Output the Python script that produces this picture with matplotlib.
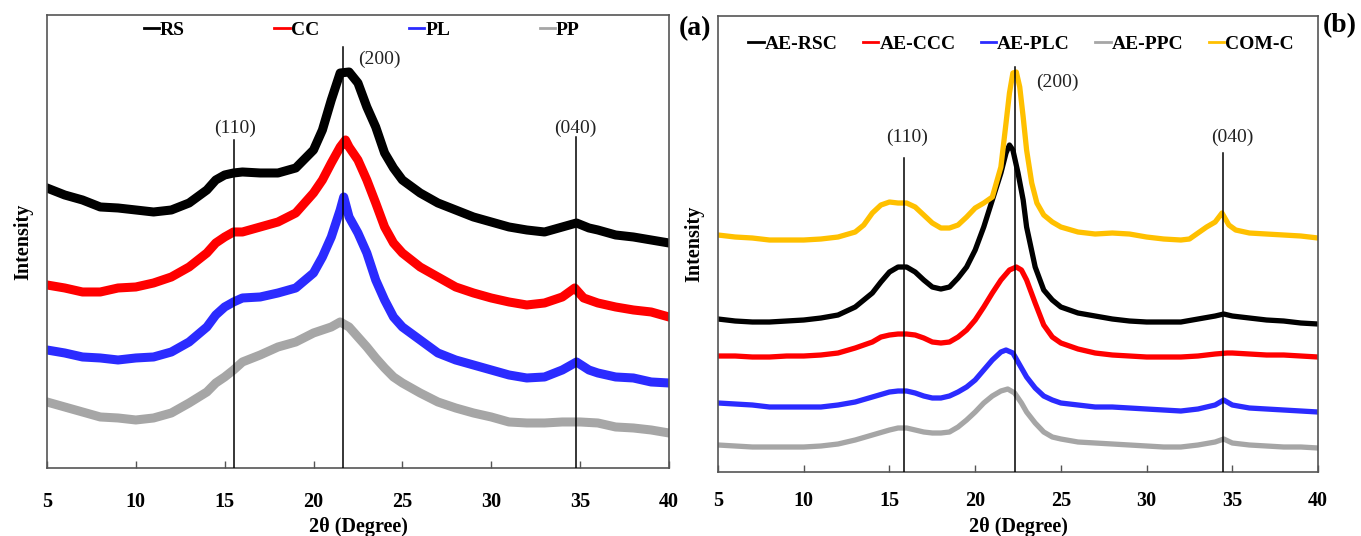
import matplotlib
matplotlib.use('Agg')
import matplotlib.pyplot as plt

plt.rcParams['font.family'] = ['Liberation Serif', 'DejaVu Serif']

# ---- (a) raw materials: 2theta / intensity (a.u., offset traces) ----
rs_x = [5, 6, 7, 8, 9, 10, 11, 12, 13, 14, 14.5, 15, 15.5, 16, 17, 18, 19, 20, 20.5, 21,
        21.5, 22, 22.5, 23, 23.5, 24, 24.5, 25, 26, 27, 28, 29, 30, 31, 32, 33, 34, 34.8,
        35.5, 36, 37, 38, 39, 40]
rs_y = [280, 273, 268, 261, 260, 258, 256, 258, 265, 278, 288, 293, 295, 296, 295, 295, 300,
        318, 338, 368, 395, 396, 385, 361, 341, 315, 300, 288, 275, 265, 258, 251, 246, 241,
        238, 236, 241, 245, 240, 238, 233, 231, 228, 225]

cc_x = [5, 6, 7, 8, 9, 10, 11, 12, 13, 14, 14.5, 15, 15.5, 16, 17, 18, 19, 20, 20.5, 21,
        21.5, 21.8, 22, 22.5, 23, 23.5, 24, 24.5, 25, 26, 27, 28, 29, 30, 31, 32, 33, 34,
        34.7, 35.2, 36, 37, 38, 39, 40]
cc_y = [183, 180, 176, 176, 180, 181, 185, 191, 201, 215, 225, 231, 236, 236, 241, 246, 255,
        275, 288, 305, 321, 328, 321, 308, 288, 265, 241, 225, 215, 201, 191, 181, 175, 170,
        166, 163, 165, 171, 180, 170, 165, 161, 158, 156, 151]

pl_x = [5, 6, 7, 8, 9, 10, 11, 12, 13, 14, 14.5, 15, 15.5, 16, 17, 18, 19, 20, 20.5, 21,
        21.5, 21.7, 22, 22.5, 23, 23.5, 24, 24.5, 25, 26, 27, 28, 29, 30, 31, 32, 33, 34,
        34.8, 35.5, 36, 37, 38, 39, 40]
pl_y = [118, 115, 111, 110, 108, 110, 111, 116, 126, 141, 153, 161, 166, 170, 171, 175, 180,
        195, 211, 231, 258, 271, 251, 235, 215, 188, 168, 151, 141, 128, 115, 108, 103, 98,
        93, 90, 91, 98, 106, 98, 95, 91, 90, 86, 85]

pp_x = [5, 6, 7, 8, 9, 10, 11, 12, 13, 14, 14.5, 15, 15.5, 16, 17, 18, 19, 20, 20.5, 21,
        21.5, 22, 22.5, 23, 23.5, 24, 24.5, 25, 26, 27, 28, 29, 30, 31, 32, 33, 34, 35, 36,
        37, 38, 39, 40]
pp_y = [66, 61, 56, 51, 50, 48, 50, 55, 65, 76, 85, 91, 98, 106, 113, 121, 126, 135, 138, 141,
        146, 141, 131, 121, 110, 100, 91, 85, 75, 66, 60, 55, 51, 46, 45, 45, 46, 46, 45, 41,
        40, 38, 35]

# ---- (b) extracted celluloses ----
com_x = [5, 6, 7, 8, 9, 10, 11, 12, 13, 13.5, 14, 14.5, 15, 15.5, 16, 16.5, 17, 17.5, 18,
         18.5, 19, 19.5, 20, 20.5, 21, 21.5, 21.8, 22.0, 22.2, 22.4, 22.6, 22.8, 23.0, 23.3,
         23.6, 24, 24.5, 25, 26, 27, 28, 29, 30, 31, 32, 32.5, 33, 33.5, 34, 34.4, 34.8,
         35.2, 36, 37, 38, 39, 40]
com_y = [237, 235, 234, 232, 232, 232, 233, 235, 240, 247, 259, 267, 270, 269, 269, 265, 257,
         249, 244, 244, 247, 255, 264, 269, 275, 305, 349, 379, 399, 400, 385, 355, 322, 289,
         269, 257, 250, 245, 240, 238, 239, 238, 235, 233, 232, 233, 239, 245, 250, 259, 247,
         242, 239, 238, 237, 236, 234]

rsc_x = [5, 6, 7, 8, 9, 10, 11, 12, 13, 14, 14.5, 15, 15.5, 16, 16.5, 17, 17.5, 18, 18.5,
         19, 19.5, 20, 20.5, 21, 21.5, 21.8, 22.0, 22.2, 22.5, 22.8, 23.0, 23.5, 24, 24.5,
         25, 26, 27, 28, 29, 30, 31, 32, 33, 34, 34.5, 35, 36, 37, 38, 39, 40]
rsc_y = [153, 151, 150, 150, 151, 152, 154, 157, 165, 179, 190, 200, 205, 205, 200, 192, 185,
         183, 185, 194, 205, 222, 245, 272, 299, 319, 327, 322, 299, 272, 245, 205, 182, 172,
         165, 159, 156, 153, 151, 150, 150, 150, 153, 156, 158, 156, 154, 152, 151, 149, 148]

ccc_x = [5, 6, 7, 8, 9, 10, 11, 12, 13, 14, 14.5, 15, 15.5, 16, 16.5, 17, 17.5, 18, 18.5,
         19, 19.5, 20, 20.5, 21, 21.5, 22.0, 22.4, 22.7, 23.0, 23.5, 24, 24.5, 25, 26, 27,
         28, 29, 30, 31, 32, 33, 34, 34.7, 35, 36, 37, 38, 39, 40]
ccc_y = [116, 116, 115, 115, 116, 116, 117, 119, 124, 130, 135, 137, 138, 138, 137, 134, 130,
         129, 130, 135, 142, 152, 165, 179, 192, 202, 205, 202, 192, 169, 147, 135, 129, 123,
         119, 117, 116, 115, 115, 115, 116, 118, 119, 119, 118, 117, 117, 116, 115]

plc_x = [5, 6, 7, 8, 9, 10, 11, 12, 13, 14, 15, 15.5, 16, 16.5, 17, 17.5, 18, 18.5, 19,
         19.5, 20, 20.5, 21, 21.5, 21.8, 22.2, 22.5, 23, 23.5, 24, 24.5, 25, 26, 27, 28, 29,
         30, 31, 32, 33, 34, 34.5, 35, 36, 37, 38, 39, 40]
plc_y = [69, 68, 67, 65, 65, 65, 65, 67, 70, 75, 80, 81, 81, 79, 76, 74, 74, 76, 80, 85, 92,
         102, 112, 120, 122, 119, 110, 95, 84, 76, 72, 69, 67, 65, 65, 64, 63, 62, 61, 63, 67,
         72, 67, 64, 63, 62, 61, 60]

ppc_x = [5, 6, 7, 8, 9, 10, 11, 12, 13, 14, 15, 15.5, 16, 16.5, 17, 17.5, 18, 18.5, 19,
         19.5, 20, 20.5, 21, 21.5, 21.9, 22.3, 22.7, 23, 23.5, 24, 24.5, 25, 26, 27, 28, 29,
         30, 31, 32, 33, 34, 34.5, 35, 36, 37, 38, 39, 40]
ppc_y = [27, 26, 25, 25, 25, 25, 26, 28, 32, 37, 42, 44, 44, 42, 40, 39, 39, 40, 45, 52, 60,
         69, 76, 81, 83, 79, 69, 60, 49, 40, 35, 33, 30, 29, 28, 27, 26, 25, 25, 27, 30, 33,
         29, 27, 26, 25, 25, 24]

# peak positions (2theta) for each panel
peaks_a = [15.5, 21.67, 34.75]
peaks_b = [15.86, 22.33, 34.48]
peak_names = ['(110)', '(200)', '(040)']

BLACK, RED, BLUE, GRAY, GOLD = '#000000', '#ff0000', '#2b2bff', '#a6a6a6', '#ffc000'


def style_axis(ax, ymax, pad):
    ax.set_xlim(5, 40)
    ax.set_ylim(0, ymax)
    ax.set_xticks(range(5, 41, 5))
    ax.set_yticks([])
    ax.tick_params(axis='x', direction='in', length=5, width=1, color='#555555',
                   pad=pad, labelsize=14.5)
    for lbl in ax.get_xticklabels():
        lbl.set_fontweight('bold')
    for sp in ax.spines.values():
        sp.set_color('#555555')
        sp.set_linewidth(1.2)
    ax.set_xlabel('2θ (Degree)', fontsize=14.5, fontweight='bold')
    ax.set_ylabel('Intensity', fontsize=14.5, fontweight='bold', labelpad=10)


fig = plt.figure(figsize=(13.61, 5.36), dpi=100)

# ---------------- panel (a) ----------------
ax1 = fig.add_axes([0.0345, 0.1269, 0.457, 0.8442])
lw_a = 6.5
ax1.plot(pp_x, pp_y, color=GRAY, lw=lw_a, label='PP', solid_joinstyle='round')
ax1.plot(pl_x, pl_y, color=BLUE, lw=lw_a, label='PL', solid_joinstyle='round')
ax1.plot(cc_x, cc_y, color=RED, lw=lw_a, label='CC', solid_joinstyle='round')
ax1.plot(rs_x, rs_y, color=BLACK, lw=lw_a, label='RS', solid_joinstyle='round')

tops_a = [328, 421, 331]
lab_a = [(15.6, 340), (23.7, 409), (34.75, 340)]
for px, top, (lx, ly), name in zip(peaks_a, tops_a, lab_a, peak_names):
    ax1.plot([px, px], [0, top], color='black', lw=1.1, zorder=5)
    ax1.text(lx, ly, name, ha='center', va='center', fontsize=14, color='#222222')

style_axis(ax1, 452.5, 17)
# both panels share the same baseline for the x label
ax1.xaxis.set_label_coords(0.263, 0.036, transform=fig.transFigure)
h, l = ax1.get_legend_handles_labels()
order = [3, 2, 1, 0]
handles = [plt.Line2D([], [], color=h[i].get_color(), lw=2) for i in order]
ax1.legend(handles, [l[i] for i in order], ncol=4, loc='center',
           bbox_to_anchor=(0.506, 0.968), frameon=False, handlelength=0.8,
           handletextpad=0.05, columnspacing=4.6, prop={'size': 14, 'weight': 'bold'})

fig.text(0.5105, 0.947, '(a)', fontsize=20, fontweight='bold', ha='center', va='center')

# ---------------- panel (b) ----------------
ax2 = fig.add_axes([0.5276, 0.1194, 0.4408, 0.8507])
lw_b = 3.8
ax2.plot(ppc_x, ppc_y, color=GRAY, lw=lw_b, label='AE-PPC', solid_joinstyle='round')
ax2.plot(plc_x, plc_y, color=BLUE, lw=lw_b, label='AE-PLC', solid_joinstyle='round')
ax2.plot(ccc_x, ccc_y, color=RED, lw=lw_b, label='AE-CCC', solid_joinstyle='round')
ax2.plot(rsc_x, rsc_y, color=BLACK, lw=lw_b, label='AE-RSC', solid_joinstyle='round')
ax2.plot(com_x, com_y, color=GOLD, lw=lw_b, label='COM-C', solid_joinstyle='round')

tops_b = [314, 405, 319]
lab_b = [(16.0, 335), (24.8, 390), (35.0, 335)]
for px, top, (lx, ly), name in zip(peaks_b, tops_b, lab_b, peak_names):
    ax2.plot([px, px], [0, top], color='black', lw=1.1, zorder=5)
    ax2.text(lx, ly, name, ha='center', va='center', fontsize=14, color='#222222')

style_axis(ax2, 456, 14)
ax2.xaxis.set_label_coords(0.748, 0.036, transform=fig.transFigure)
h, l = ax2.get_legend_handles_labels()
order = [3, 2, 1, 0, 4]
handles = [plt.Line2D([], [], color=h[i].get_color(), lw=2) for i in order]
ax2.legend(handles, [l[i] for i in order], ncol=5, loc='center',
           bbox_to_anchor=(0.505, 0.939), frameon=False, handlelength=0.8,
           handletextpad=0.05, columnspacing=1.3, prop={'size': 14, 'weight': 'bold'})

fig.text(0.9845, 0.953, '(b)', fontsize=20, fontweight='bold', ha='center', va='center')

fig.savefig('out.png', dpi=100)
